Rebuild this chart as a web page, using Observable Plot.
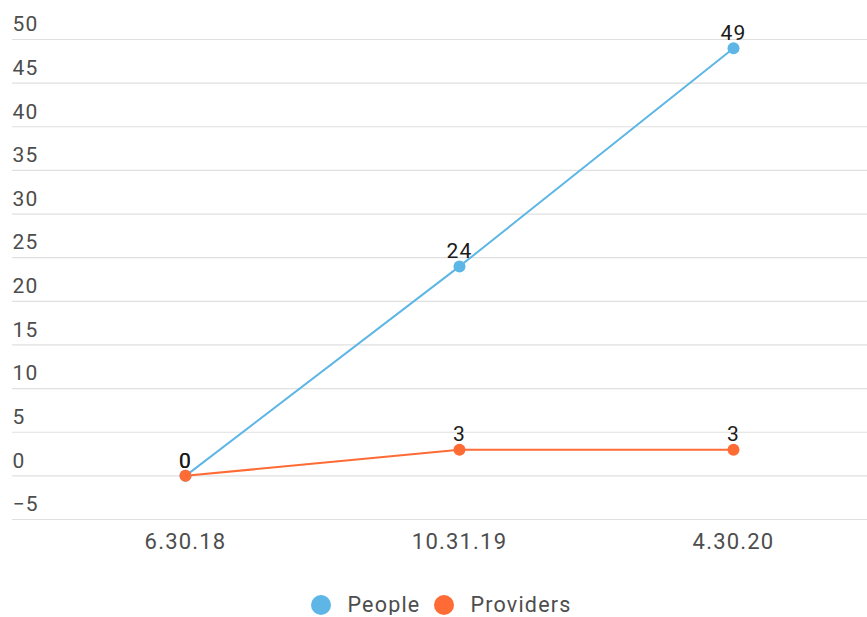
<!DOCTYPE html>
<html>
<head>
<meta charset="utf-8">
<script src="https://cdn.jsdelivr.net/npm/d3@7"></script>
<script src="https://cdn.jsdelivr.net/npm/@observablehq/plot@0.6"></script>
<style>
  html, body { margin: 0; padding: 0; background: #fff; }
  #legend { display: flex; justify-content: center; align-items: center; margin-top: 35px; padding-left: 16px;
            font-family: Roboto, sans-serif; font-size: 21.5px; letter-spacing: 1.2px; color: #4d4d4d; line-height: 20px; }
  .item { display: flex; align-items: center; margin: 0 7px; }
  .sw { width: 20px; height: 20px; border-radius: 50%; margin-right: 16px; }
</style>
</head>
<body>
<div id="chart"></div>
<div id="legend"></div>
<script>
const categories = ["6.30.18", "10.31.19", "4.30.20"];
const seriesNames = ["People", "Providers"];
const peopleValues = [0, 24, 49];
const providersValues = [0, 3, 3];
const seriesColors = ["#5DB6E6", "#FF6B35"];
const yTicks = [-5, 0, 5, 10, 15, 20, 25, 30, 35, 40, 45, 50];

const seriesValues = [peopleValues, providersValues];
const data = seriesNames.flatMap((s, si) =>
  categories.map((c, i) => ({series: s, category: c, value: seriesValues[si][i]})));

const chart = Plot.plot({
  width: 867,
  height: 560,
  marginLeft: 12,
  marginRight: 0,
  marginTop: 39,
  marginBottom: 41,
  style: {fontFamily: "Roboto, sans-serif", fontSize: "21px", background: "#fff", letterSpacing: "1.2px"},
  x: {type: "point", domain: categories, padding: 0.557, align: 0.565, label: null},
  y: {domain: [-5, 50], label: null},
  color: {domain: seriesNames, range: seriesColors},
  marks: [
    Plot.gridY(yTicks, {stroke: "#e0e0e0", strokeOpacity: 1, strokeWidth: 1.2}),
    Plot.axisY(yTicks, {tickSize: 0, tickPadding: 0, textAnchor: "start", dy: -15, fill: "#4d4d4d", label: null}),
    Plot.axisX({tickSize: 0, tickPadding: 14, fill: "#4d4d4d", fontSize: 22, label: null}),
    Plot.line(data, {x: "category", y: "value", z: "series", stroke: "series", strokeWidth: 2}),
    Plot.dot(data, {x: "category", y: "value", fill: "series", r: 6}),
    Plot.text(data, {x: "category", y: "value", text: d => String(d.value), dy: -15, fill: "#1a1a1a"})
  ]
});
document.getElementById("chart").appendChild(chart);

const legend = document.getElementById("legend");
seriesNames.forEach((s, i) => {
  const item = document.createElement("div");
  item.className = "item";
  const sw = document.createElement("span");
  sw.className = "sw";
  sw.style.background = seriesColors[i];
  const label = document.createElement("span");
  label.textContent = s;
  item.appendChild(sw);
  item.appendChild(label);
  legend.appendChild(item);
});
</script>
</body>
</html>
